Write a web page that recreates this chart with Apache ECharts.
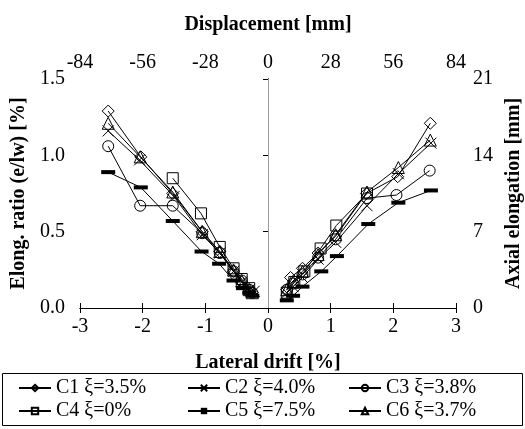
<!DOCTYPE html>
<html><head><meta charset="utf-8">
<script src="https://cdn.jsdelivr.net/npm/echarts@6/dist/echarts.min.js"></script>
<style>html,body{margin:0;padding:0;background:#fff}#c{width:525px;height:429px}</style>
</head><body><div id="c"></div>
<script>
// Names
const seriesNames = ['C1 ξ=3.5%', 'C2 ξ=4.0%', 'C3 ξ=3.8%', 'C4 ξ=0%', 'C5 ξ=7.5%', 'C6 ξ=3.7%'];
// Lateral drift [%] / elongation ratio [%] ; '-' breaks the line between negative and positive branches
const c1 = [[-2.55,1.29],[-2.03,0.99],[-1.52,0.75],[-1.05,0.50],[-0.77,0.37],[-0.55,0.24],[-0.42,0.17],[-0.30,0.12],[-0.25,0.10],
            [0,'-'],[0.30,0.12],[0.36,0.20],[0.55,0.26],[0.80,0.36],[1.08,0.47],[1.57,0.75],[2.07,0.86],[2.59,1.21]];
const c2 = [[-2.55,1.16],[-2.05,0.97],[-1.50,0.73],[-1.05,0.48],[-0.77,0.36],[-0.55,0.24],[-0.42,0.17],[-0.30,0.12],[-0.22,0.11],
            [0,'-'],[0.30,0.10],[0.40,0.14],[0.55,0.20],[0.80,0.32],[1.08,0.43],[1.58,0.67],[2.08,0.88],[2.60,1.08]];
const c3 = [[-2.55,1.06],[-2.04,0.67],[-1.52,0.67],[-1.05,0.49],[-0.77,0.36],[-0.55,0.24],[-0.42,0.18],[-0.30,0.12],[-0.25,0.10],
            [0,'-'],[0.30,0.12],[0.40,0.16],[0.55,0.22],[0.80,0.33],[1.08,0.45],[1.58,0.72],[2.05,0.74],[2.58,0.90]];
const c4 = [[-1.52,0.85],[-1.07,0.62],[-0.77,0.40],[-0.55,0.26],[-0.42,0.19],[-0.30,0.13],
            [0,'-'],[0.30,0.10],[0.42,0.17],[0.58,0.24],[0.84,0.39],[1.09,0.54],[1.58,0.75]];
const c5 = [[-2.55,0.89],[-2.03,0.79],[-1.52,0.57],[-1.06,0.37],[-0.78,0.29],[-0.55,0.18],[-0.40,0.13],[-0.30,0.10],[-0.25,0.08],
            [0,'-'],[0.30,0.05],[0.40,0.08],[0.55,0.14],[0.85,0.24],[1.10,0.34],[1.60,0.55],[2.08,0.69],[2.60,0.77]];
const c6 = [[-2.55,1.21],[-2.04,0.99],[-1.52,0.76],[-1.05,0.50],[-0.77,0.37],[-0.55,0.25],[-0.42,0.18],[-0.30,0.12],[-0.25,0.10],
            [0,'-'],[0.30,0.12],[0.40,0.17],[0.55,0.24],[0.80,0.35],[1.08,0.48],[1.58,0.76],[2.08,0.92],[2.59,1.10]];
const seriesData = [c1, c2, c3, c4, c5, c6];
// Tick ranges
const driftTicks = [-3, 3, 1];
const dispTicks = [-84, 84, 28];
const ratioTicks = [0, 1.5, 0.5];
const elongTicks = [0, 21, 7];

const FONT = '"Liberation Serif", "DejaVu Serif", serif';
const symbols = ['diamond', 'path://M0,0L10,10M10,0L0,10', 'circle', 'rect', 'rect', 'triangle'];
const sizes = [12, 11, 11, 11, [14, 4], 12];

const series = seriesData.map((d, i) => ({
  name: seriesNames[i], type: 'line', data: d, xAxisIndex: 0, yAxisIndex: 0,
  symbol: symbols[i], symbolSize: sizes[i], showAllSymbol: true,
  connectNulls: false,
  lineStyle: { color: '#000', width: 1 },
  itemStyle: i === 4 ? { color: '#000', borderColor: '#000', borderWidth: 0 }
                     : { color: 'rgba(0,0,0,0)', borderColor: '#000', borderWidth: 1 },
  emphasis: { disabled: true },
  z: 3,
  markLine: i === 0 ? { silent: true, symbol: 'none', label: { show: false },
    lineStyle: { color: '#9a9a9a', type: 'solid', width: 1 }, data: [{ xAxis: 0 }] } : undefined
}));

const legendCols = [18, 187, 348];
const legendRows = [378, 401];
const legends = seriesNames.map((n, i) => ({
  data: [n], left: legendCols[i % 3], top: legendRows[Math.floor(i / 3)],
  padding: 0, itemWidth: 32, itemHeight: 8, itemGap: 0,
  textStyle: { fontFamily: FONT, fontSize: 20, color: '#000' },
  selectedMode: false
}));

const axisCommon = {
  axisLine: { show: true, lineStyle: { color: '#000', width: 1 } },
  axisTick: { show: true, length: 5, lineStyle: { color: '#000' } },
  splitLine: { show: false },
  axisLabel: { fontFamily: FONT, fontSize: 20, color: '#000' },
  nameTextStyle: { fontFamily: FONT, fontSize: 20, fontWeight: 'bold', color: '#000' }
};

const chart = echarts.init(document.getElementById('c'), null, { renderer: 'canvas' });
chart.setOption({
  animation: false,
  backgroundColor: '#fff',
  textStyle: { fontFamily: FONT },
  grid: { left: 80, right: 69, top: 79, bottom: 121, containLabel: false, outerBoundsMode: 'none' },
  legend: legends,
  graphic: [{ type: 'rect', shape: { x: 2.5, y: 373.5, width: 520, height: 52 },
    style: { fill: 'none', stroke: '#000', lineWidth: 1 }, z: 10 }],
  xAxis: [
    Object.assign({}, axisCommon, { type: 'value', position: 'bottom', min: driftTicks[0], max: driftTicks[1], interval: driftTicks[2],
      name: 'Lateral drift [%]', nameLocation: 'middle', nameGap: 45,
      axisLabel: Object.assign({}, axisCommon.axisLabel, { margin: 9 }) }),
    Object.assign({}, axisCommon, { type: 'value', position: 'top', min: dispTicks[0], max: dispTicks[1], interval: dispTicks[2],
      name: 'Displacement [mm]', nameLocation: 'middle', nameGap: 44,
      axisLabel: Object.assign({}, axisCommon.axisLabel, { margin: 6 }) })
  ],
  yAxis: [
    Object.assign({}, axisCommon, { type: 'value', position: 'left', min: ratioTicks[0], max: ratioTicks[1], interval: ratioTicks[2],
      name: 'Elong. ratio (e/lw) [%]', nameLocation: 'middle', nameGap: 49,
      axisLabel: Object.assign({}, axisCommon.axisLabel, { margin: 15, formatter: v => v.toFixed(1) }) }),
    Object.assign({}, axisCommon, { type: 'value', position: 'right', min: elongTicks[0], max: elongTicks[1], interval: elongTicks[2],
      name: 'Axial elongation [mm]', nameLocation: 'middle', nameGap: 48, nameRotate: 90,
      axisTick: { show: true, inside: true, length: 5, lineStyle: { color: '#000' } },
      axisLabel: Object.assign({}, axisCommon.axisLabel, { margin: 17 }) })
  ],
  series: series
});
</script></body></html>
